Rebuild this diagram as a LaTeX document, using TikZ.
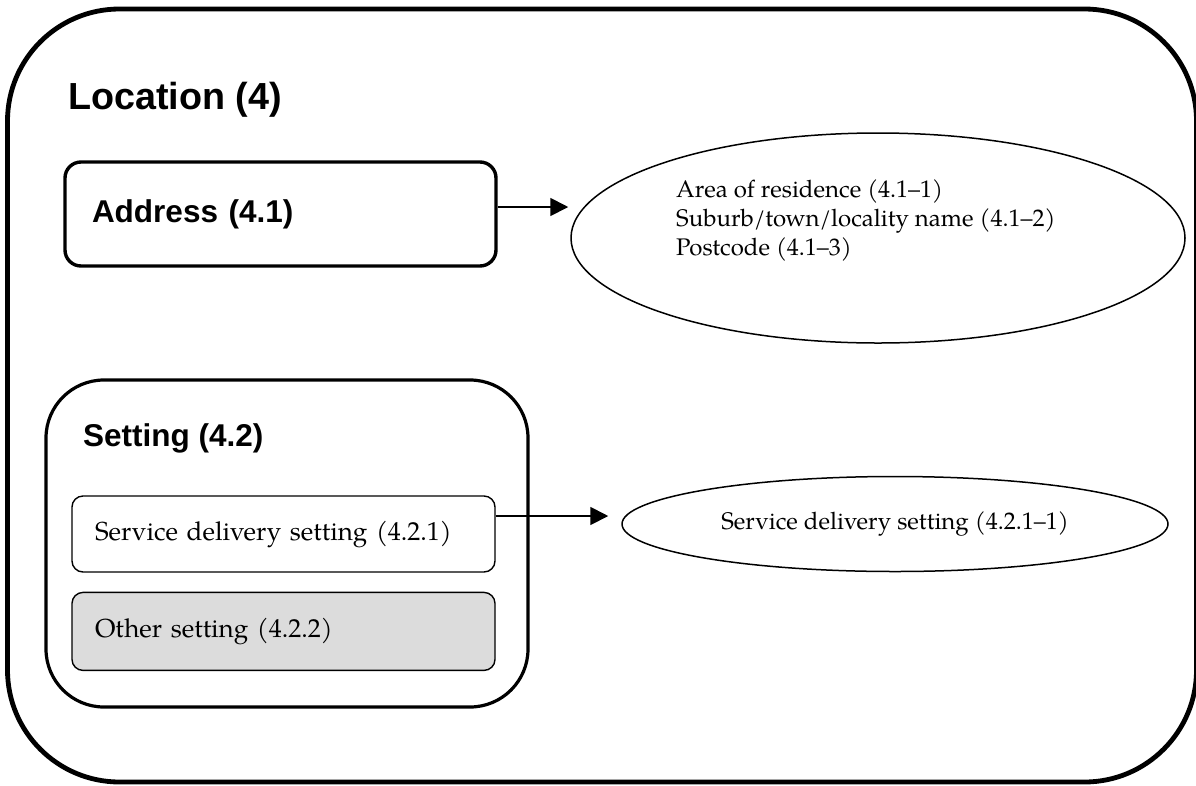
\documentclass[tikz,border=0pt]{standalone}
\usepackage{fontspec}
\setmainfont{Liberation Sans}
\newfontfamily\pal{texgyrepagella}[Extension=.otf,UprightFont=*-regular,BoldFont=*-bold]
\usetikzlibrary{positioning,arrows.meta,shapes.geometric,calc}
\definecolor{ink}{HTML}{000000}
\definecolor{shade}{HTML}{DCDCDC}
\tikzset{
  frm/.style={draw=ink,line width=4.8pt,rounded corners=112pt},
  grp/.style={draw=ink,line width=3.2pt,rounded corners=58pt,minimum width=482,minimum height=327},
  box/.style={draw=ink,line width=3.4pt,rounded corners=16pt,minimum height=104,text width=377,inner xsep=27pt,align=left,font=\bfseries\fontsize{31.5}{36}\selectfont},
  sub/.style={draw=ink,line width=1.4pt,rounded corners=11pt,fill=white,minimum height=76,text width=377,inner xsep=23pt,align=left,font=\pal\fontsize{26}{31}\selectfont},
  oval/.style={ellipse,draw=ink,line width=1.5pt,inner sep=0pt},
  arr/.style={-{Triangle[length=18pt,width=18pt]},line width=1.8pt,draw=ink},
  head/.style={font=\bfseries\fontsize{31.5}{36}\selectfont,anchor=base west,inner sep=0pt},
  txt/.style={font=\pal\fontsize{24}{29}\selectfont,align=left,inner sep=0pt},
}
\begin{document}
\begin{tikzpicture}[x=1pt,y=-1pt]
\useasboundingbox (0,0) rectangle (1196,785);
\draw[frm] (7.5,9) rectangle (1196.5,782);
\node[head,font=\bfseries\fontsize{37.7}{42}\selectfont] (loc) at (68,109) {Location (4)};
\node[box] (addr) at (280.5,214) {Address (4.1)};
\node[oval,minimum width=614,minimum height=210] (addrlist) at (878,238) {};
\node[txt,anchor=north west] (addrtxt) at (676,179) {Area of residence (4.1–1)\\Suburb/town/locality name (4.1–2)\\Postcode (4.1–3)};
\draw[arr] ($(addr.east)+(0,-7)$) -- ($(addrlist.west)+(-2,-31)$);
\node[grp] (setting) at (287,543.5) {};
\node[head] (settingtitle) at (83,446) {Setting (4.2)};
\node[sub] (sds) at (283.5,534) {Service delivery setting (4.2.1)};
\node[sub,fill=shade,minimum height=78,below=19pt of sds] (oth) {Other setting (4.2.2)};
\node[oval,minimum width=546,minimum height=95,font=\pal\fontsize{24}{29}\selectfont] (sdsvar) at (895,524) {Service delivery setting (4.2.1–1)};
\draw[arr] ($(sds.east)+(0,-18)$) -- ($(sdsvar.west)+(-13,-8)$);
\end{tikzpicture}
\end{document}
